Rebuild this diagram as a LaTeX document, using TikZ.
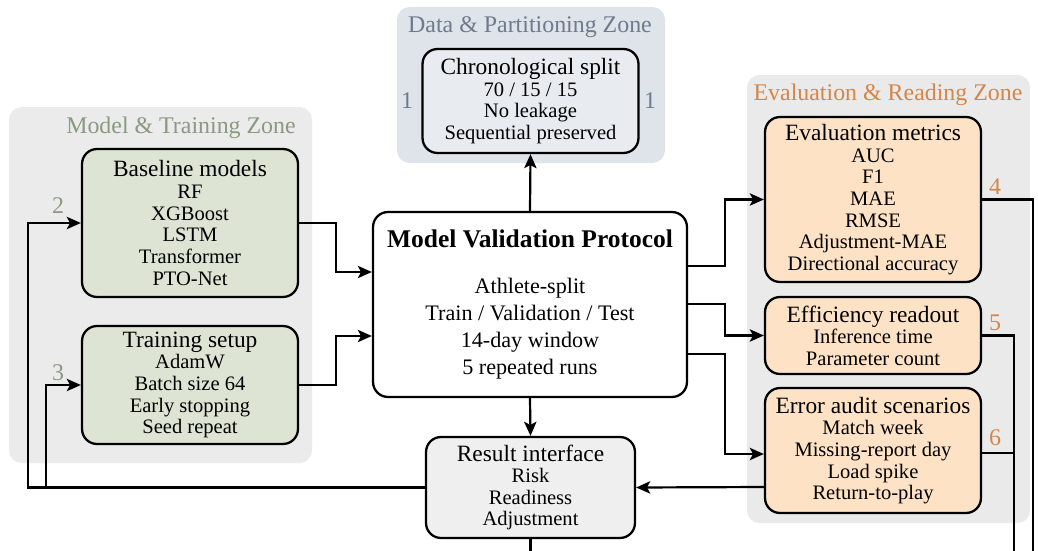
\documentclass[tikz,border=0pt]{standalone}
\usepackage{fontspec}
\setmainfont{Liberation Serif}
\usetikzlibrary{arrows.meta}

\definecolor{databack}{HTML}{DFE3EA}
\definecolor{databox}{HTML}{E8EBEF}
\definecolor{datatext}{HTML}{6E7B8C}
\definecolor{modelback}{HTML}{EBEBEB}
\definecolor{modelbox}{HTML}{DEE4D4}
\definecolor{modeltext}{HTML}{8A9A80}
\definecolor{evalback}{HTML}{EAEAEB}
\definecolor{evalbox}{HTML}{FDE2C6}
\definecolor{evaltext}{HTML}{D4864A}
\definecolor{resultbox}{HTML}{EFEFEF}

\newcommand{\bodysize}{\fontsize{11.7}{12.3}\selectfont}
\newcommand{\headsize}{\fontsize{13.3}{14}\selectfont}
\newcommand{\zonesize}{\fontsize{13.6}{15}\selectfont}

\begin{document}
\begin{tikzpicture}[x=0.02cm, y=-0.02cm, line width=1.25pt, >={Stealth[length=8pt,width=7pt,inset=1.8pt]}]
\tikzstyle{zone} = [rounded corners=0.25cm]
\tikzstyle{card} = [draw, rounded corners=0.3cm, line width=1.3pt, align=center, inner sep=0pt, font=\bodysize, minimum width=4.32cm]
\tikzstyle{ztitle} = [font=\zonesize, inner sep=0pt]

\useasboundingbox (0,0) rectangle (1038,551);

% zone panels
\fill[databack, zone] (397,7) rectangle (665,163);
\fill[modelback, zone] (9,107) rectangle (312,463);
\fill[evalback, zone] (747,75) rectangle (1030,523);

\node[ztitle, text=datatext] (dataz) at (530,27) {Data \& Partitioning Zone};
\node[ztitle, text=modeltext] (modelz) at (181,128) {Model \& Training Zone};
\node[ztitle, text=evaltext] (evalz) at (888,95) {Evaluation \& Reading Zone};

% boxes
\node[card, fill=databox, minimum height=2.08cm] (chrono) at (530.5,101)
  {{\headsize Chronological split}\\ 70 / 15 / 15\\ No leakage\\ Sequential preserved};
\node[card, fill=modelbox, minimum height=2.96cm] (baseline) at (190,223)
  {{\headsize Baseline models}\\ RF\\ XGBoost\\ LSTM\\ Transformer\\ PTO-Net};
\node[card, fill=modelbox, minimum height=2.36cm] (training) at (190,385)
  {{\headsize Training setup}\\ AdamW\\ Batch size 64\\ Early stopping\\ Seed repeat};
\node[card, fill=white, minimum width=6.28cm, minimum height=3.7cm, font=\fontsize{12.6}{15.3}\selectfont] (mvp) at (530,304.5)
  {{\fontsize{14.5}{15}\selectfont\bfseries Model Validation Protocol}\\[11pt] Athlete-split\\ Train / Validation / Test\\ 14-day window\\ 5 repeated runs};
\node[card, fill=resultbox, minimum width=4.18cm, minimum height=2.02cm] (result) at (530.5,487.5)
  {{\headsize Result interface}\\ Risk\\ Readiness\\ Adjustment};
\node[card, fill=evalbox, minimum height=3.3cm] (eval) at (873,199.5)
  {{\headsize Evaluation metrics}\\ AUC\\ F1\\ MAE\\ RMSE\\ Adjustment-MAE\\ Directional accuracy};
\node[card, fill=evalbox, minimum height=1.54cm] (eff) at (873,335.5)
  {{\headsize Efficiency readout}\\ Inference time\\ Parameter count};
\node[card, fill=evalbox, minimum height=2.5cm] (err) at (873,450.5)
  {{\headsize Error audit scenarios}\\ Match week\\ Missing-report day\\ Load spike\\ Return-to-play};

% step numbers
\node[ztitle, text=datatext] (n1a) at (407,101) {1};
\node[ztitle, text=datatext] (n1b) at (650,101) {1};
\node[ztitle, text=modeltext] (n2) at (58,206) {2};
\node[ztitle, text=modeltext] (n3) at (58,373) {3};
\node[ztitle, text=evaltext] (n4) at (995,187) {4};
\node[ztitle, text=evaltext] (n5) at (995,323) {5};
\node[ztitle, text=evaltext] (n6) at (995,438) {6};

% loose ends at the lower edge
\coordinate (outres) at (530.5,551);
\coordinate (outeval) at (1033,551);
\coordinate (outeff) at (1014,551);

% into the protocol
\draw [->] (baseline.east) -- (336,223) |- (mvp.west |- 0,272);
\draw [->] (training.east) -- (336,385) |- (mvp.west |- 0,336);
\draw [->] (mvp.north) -- (chrono.south);
\draw [->] (mvp.south) -- (result.north);

% out to the reading zone
\draw [->] (mvp.east |- 0,266) -- (725,266) |- (eval.west);
\draw [->] (mvp.east |- 0,304) -- (725,304) |- (eff.west);
\draw [->] (mvp.east |- 0,354) -- (725,354) |- (err.west |- 0,454);

% down the right side
\draw (eval.east) -| (outeval);
\draw (eff.east) -| (outeff);
\draw (err.east |- 0,453) -- (1014,453);
\draw (result.south) -- (outres);

% feedback loop
\draw [->] (err.west |- 0,487) -- (result.east);
\draw [->] (result.west) -- (28,487.5) |- (baseline.west);
\draw [->] (46,487.5) |- (training.west);
\end{tikzpicture}
\end{document}
